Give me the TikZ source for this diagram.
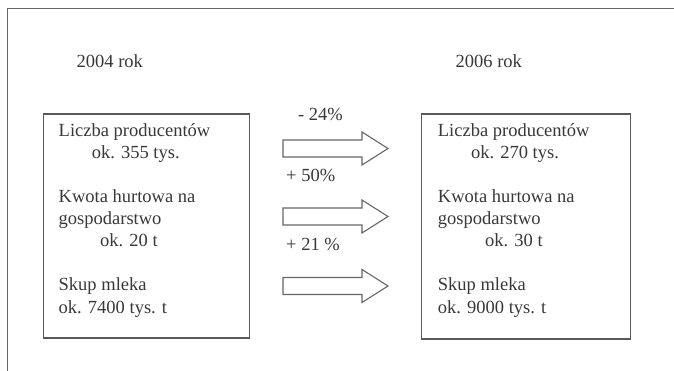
\documentclass[tikz,border=0pt]{standalone}
\usepackage{fontspec}
\setmainfont{Liberation Serif}
\begin{document}
\begin{tikzpicture}[x=1pt,y=-1pt,
  txt/.style={anchor=mid west,inner sep=0pt,text=black!78,font=\fontsize{18.5}{22}\selectfont},
  box/.style={draw=black!65,line width=1.3pt,fill=none,inner sep=0pt},
  blockarrow/.style={draw=black!60,line width=1.1pt,fill=white},
  frame/.style={draw=black!60,line width=1.2pt}]
\useasboundingbox (0,0) rectangle (674,371);
% outer frame (partly outside the page)
\coordinate (f1) at (7.7,372);
\coordinate (f2) at (7.7,8.5);
\coordinate (f3) at (675,8.5);
\draw[frame] (f1) -- (f2) -- (f3);
% years
\node[txt] (y1) at (76.5,65) {2004 rok};
\node[txt] (y2) at (455.5,65) {2006 rok};
% boxes
\node[box,minimum width=206pt,minimum height=224pt] (L) at (146.4,226) {};
\node[box,minimum width=208.5pt,minimum height=225pt] (R) at (526,226.5) {};
% left texts
\node[txt] (l1) at (58.5,134) {Liczba producentów};
\node[txt] (l2) at (91.6,156) {ok. 355 tys.};
\node[txt] (l3) at (58.5,200) {Kwota hurtowa na};
\node[txt] (l4) at (58.5,222) {gospodarstwo};
\node[txt] (l5) at (100,244) {ok. 20 t};
\node[txt] (l6) at (58.5,288) {Skup mleka};
\node[txt] (l7) at (58.5,311) {ok. 7400 tys. t};
% right texts
\node[txt] (r1) at (437.7,134) {Liczba producentów};
\node[txt] (r2) at (470.8,156) {ok. 270 tys.};
\node[txt] (r3) at (437.7,200) {Kwota hurtowa na};
\node[txt] (r4) at (437.7,222) {gospodarstwo};
\node[txt] (r5) at (485,244) {ok. 30 t};
\node[txt] (r6) at (437.7,288) {Skup mleka};
\node[txt] (r7) at (437.7,311) {ok. 9000 tys. t};
% percentages
\node[txt] (p1) at (298,118) {- 24\%};
\node[txt] (p2) at (286,179) {+ 50\%};
\node[txt] (p3) at (286,248) {+ 21 \%};
% block arrows
\foreach \cy/\nm in {148.5/a1,216.5/a2,286/a3}{
  \draw[blockarrow] (283,\cy-8.5) -- (362,\cy-8.5) -- (362,\cy-16.5) -- (388,\cy)
     -- (362,\cy+16.5) -- (362,\cy+8.5) -- (283,\cy+8.5) -- cycle;
}
\end{tikzpicture}
\end{document}
